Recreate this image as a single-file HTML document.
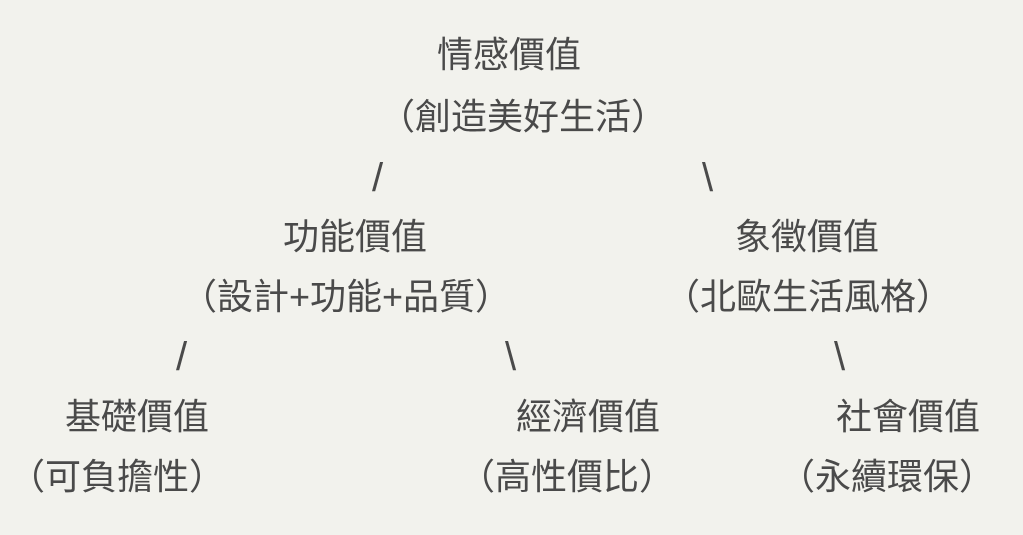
<!DOCTYPE html>
<html><head><meta charset="utf-8"><style>
html,body{margin:0;padding:0}
body{width:1023px;height:535px;background:#f2f2ed;position:relative;overflow:hidden;
font-family:"Liberation Sans","Noto Sans CJK SC",sans-serif;color:#4a4a4a}
.t{position:absolute;font-size:36px;line-height:36px;white-space:pre}
.s{position:absolute;font-size:40px;line-height:40px;font-family:"Liberation Sans",sans-serif}
</style></head><body>
<div class="t" style="left:437px;top:37px">情感價值</div>
<div class="t" style="left:379px;top:99px">（創造美好生活）</div>
<div class="s" style="left:372px;top:158px">/</div>
<div class="s" style="left:702px;top:158px">\</div>
<div class="t" style="left:283px;top:219px">功能價值</div>
<div class="t" style="left:735px;top:219px">象徵價值</div>
<div class="t" style="left:181px;top:279px">（設計+功能+品質）</div>
<div class="t" style="left:664px;top:279px">（北歐生活風格）</div>
<div class="s" style="left:176px;top:337px">/</div>
<div class="s" style="left:505px;top:337px">\</div>
<div class="s" style="left:834px;top:337px">\</div>
<div class="t" style="left:65px;top:399px">基礎價值</div>
<div class="t" style="left:516px;top:399px">經濟價值</div>
<div class="t" style="left:836px;top:399px">社會價值</div>
<div class="t" style="left:9px;top:459px">（可負擔性）</div>
<div class="t" style="left:459px;top:459px">（高性價比）</div>
<div class="t" style="left:779px;top:459px">（永續環保）</div>
</body></html>
